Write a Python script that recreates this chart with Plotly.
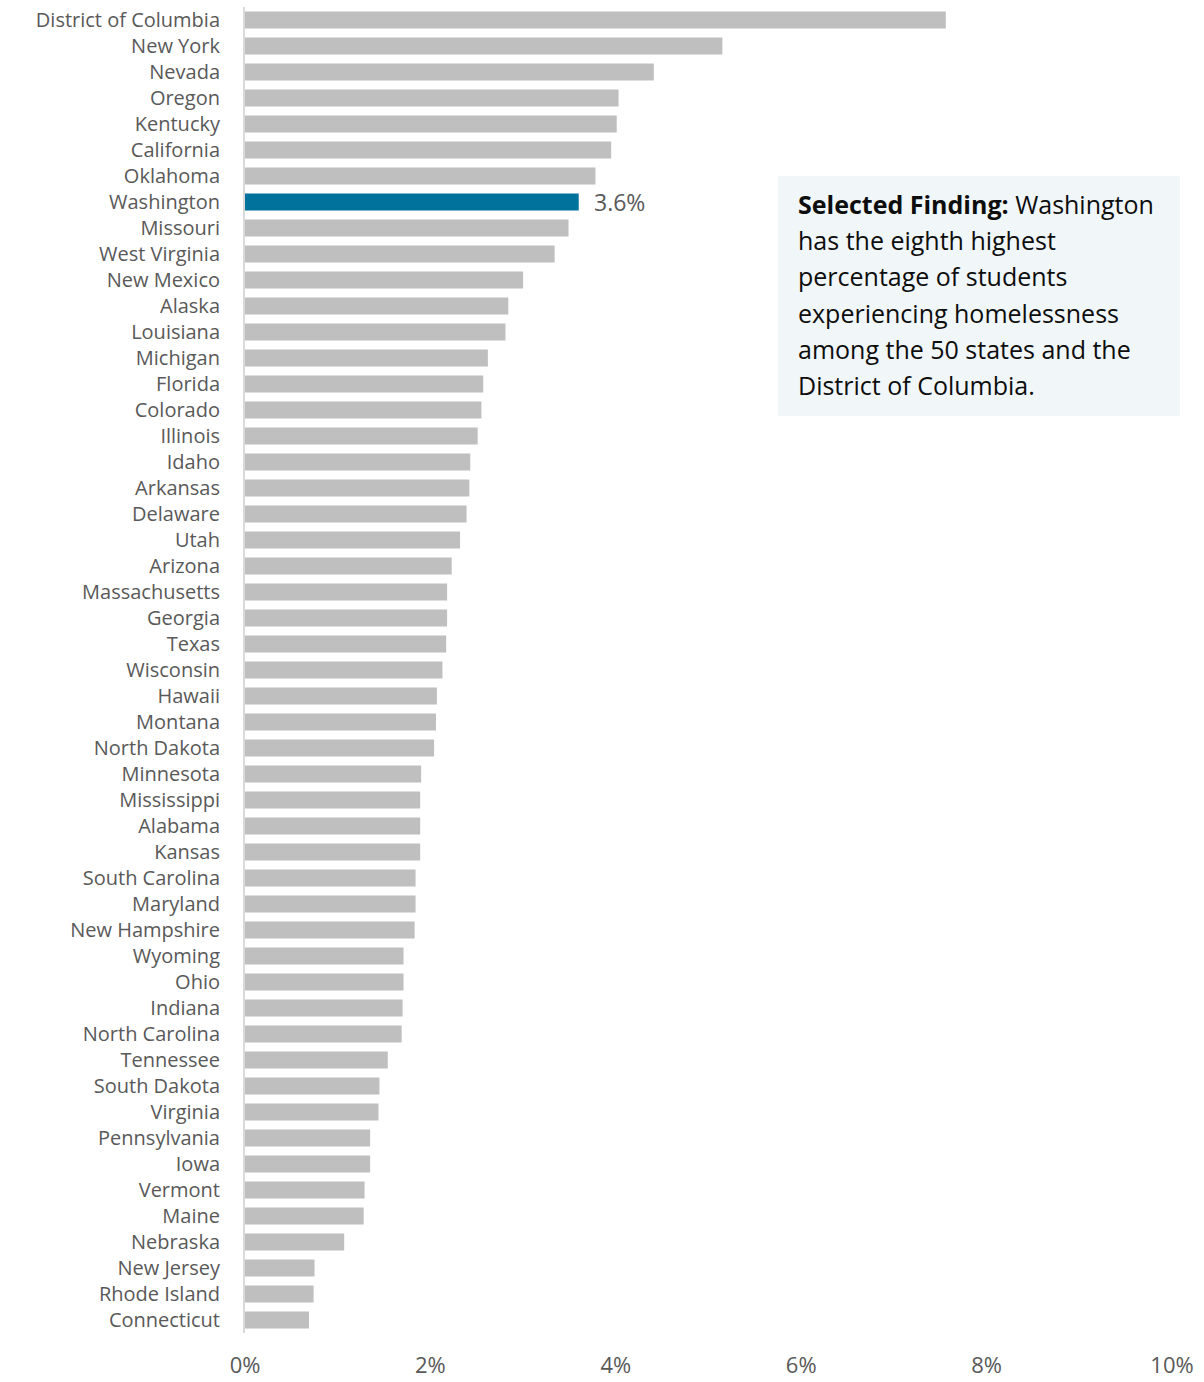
import plotly.graph_objects as go

states = ["District of Columbia", "New York", "Nevada", "Oregon", "Kentucky", "California",
          "Oklahoma", "Washington", "Missouri", "West Virginia", "New Mexico", "Alaska",
          "Louisiana", "Michigan", "Florida", "Colorado", "Illinois", "Idaho", "Arkansas",
          "Delaware", "Utah", "Arizona", "Massachusetts", "Georgia", "Texas", "Wisconsin",
          "Hawaii", "Montana", "North Dakota", "Minnesota", "Mississippi", "Alabama", "Kansas",
          "South Carolina", "Maryland", "New Hampshire", "Wyoming", "Ohio", "Indiana",
          "North Carolina", "Tennessee", "South Dakota", "Virginia", "Pennsylvania", "Iowa",
          "Vermont", "Maine", "Nebraska", "New Jersey", "Rhode Island", "Connecticut"]

pct = [7.56, 5.15, 4.41, 4.03, 4.01, 3.95,
       3.78, 3.60, 3.49, 3.34, 3.00, 2.84,
       2.81, 2.62, 2.57, 2.55, 2.51, 2.43, 2.42,
       2.39, 2.32, 2.23, 2.18, 2.18, 2.17, 2.13,
       2.07, 2.06, 2.04, 1.90, 1.89, 1.89, 1.89,
       1.84, 1.84, 1.83, 1.71, 1.71, 1.70,
       1.69, 1.54, 1.45, 1.44, 1.35, 1.35,
       1.29, 1.28, 1.07, 0.75, 0.74, 0.69]

highlight = "Washington"
tick_vals = [0, 2, 4, 6, 8, 10]
tick_text = ["0%", "2%", "4%", "6%", "8%", "10%"]

FONT = "Open Sans"
GRAY_TXT = "#595959"
colors = ["#00729b" if s == highlight else "#bfbfbf" for s in states]

fig = go.Figure(go.Bar(
    x=pct, y=states, orientation="h",
    marker=dict(color=colors, line=dict(width=0)),
    width=0.66, hoverinfo="x+y",
))

hi = states.index(highlight)
fig.add_annotation(x=pct[hi], y=states[hi], text=f"{pct[hi]:.1f}%", showarrow=False,
                   xanchor="left", xshift=13, font=dict(family=FONT, size=23, color=GRAY_TXT))

# Selected finding box
fig.add_shape(type="rect", xref="paper", yref="paper",
              x0=(778 - 245) / 927, x1=(1180 - 245) / 927,
              y0=(1333 - 416) / 1326, y1=(1333 - 176) / 1326,
              fillcolor="#f1f6f9", line=dict(width=0), layer="below")

lines = ["<b>Selected Finding:</b> Washington", "has the eighth highest",
         "percentage of students", "experiencing homelessness",
         "among the 50 states and the", "District of Columbia."]
for i, ln in enumerate(lines):
    fig.add_annotation(xref="paper", yref="paper", x=(796 - 245) / 927,
                       y=(1333 - (204 + 36.2 * i)) / 1326, text=ln, showarrow=False,
                       xanchor="left", yanchor="middle", align="left",
                       font=dict(family=FONT, size=25, color="#0d0d0d"))

fig.update_layout(
    width=1204, height=1382,
    margin=dict(l=245, r=32, t=7, b=49),
    plot_bgcolor="white", paper_bgcolor="white",
    showlegend=False,
    font=dict(family=FONT, color=GRAY_TXT),
    bargap=0.34,
)
fig.update_xaxes(range=[0, 10], tickvals=tick_vals, ticktext=tick_text,
                 showgrid=False, zeroline=False, showline=False, automargin=False,
                 ticks="outside", ticklen=13, tickcolor="rgba(0,0,0,0)",
                 tickfont=dict(family=FONT, size=22, color=GRAY_TXT), fixedrange=True)
fig.update_yaxes(autorange="reversed", showgrid=False, zeroline=False, automargin=False,
                 showline=True, linecolor="#d9d9d9", linewidth=2,
                 ticks="outside", ticklen=19, tickcolor="rgba(0,0,0,0)",
                 tickfont=dict(family=FONT, size=20, color=GRAY_TXT), fixedrange=True)

fig.write_html("out.html", config={"displayModeBar": False},
               post_script="document.body.style.margin='0';document.body.style.overflow='hidden';")
